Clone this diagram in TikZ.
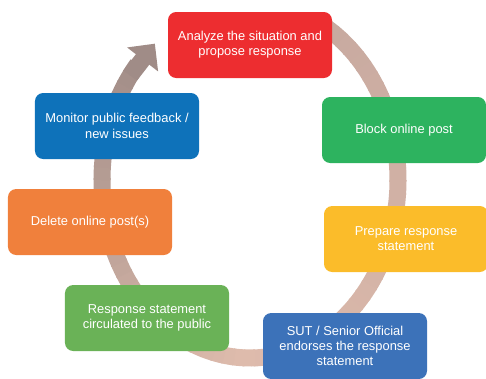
\documentclass[tikz,border=0pt]{standalone}
\usepackage{fontspec}
\setmainfont{Liberation Sans}
\usepackage{tikz}
\usetikzlibrary{arrows.meta}
\definecolor{stepred}{RGB}{237,45,48}
\definecolor{stepgreen}{RGB}{45,179,95}
\definecolor{stepyellow}{RGB}{251,188,42}
\definecolor{stepblue}{RGB}{60,114,185}
\definecolor{steplime}{RGB}{106,178,87}
\definecolor{steporange}{RGB}{240,128,60}
\definecolor{stepsky}{RGB}{14,114,186}
\definecolor{ringmid}{RGB}{200,170,160}
\definecolor{ringlight}{RGB}{222,187,172}
\definecolor{ringdark}{RGB}{160,140,135}
\tikzset{
  box/.style={rectangle, rounded corners=7pt, minimum width=4.92cm, minimum height=1.98cm, align=center, text=white, font=\fontsize{11}{13}\selectfont},
  ring/.style={line width=0.51cm},
}

\begin{document}
\begin{tikzpicture}[x=0.03cm, y=-0.03cm]
  \useasboundingbox (0,0) rectangle (486,378);

  % cycle ring
  \foreach \t [evaluate=\t as \p using {int((\t-300)/1.5)}, evaluate=\t as \e using {\t+4.6}] in {300,304,...,448} {
    \draw[ring, draw=ringlight!\p!ringmid] plot[domain=\t:\e, samples=4] ({250+148*cos(\x)}, {180+178*sin(\x)});
  }
  \foreach \t [evaluate=\t as \p using {int((\t-452)/1.3)}, evaluate=\t as \e using {\t+4.6}] in {452,456,...,576} {
    \draw[ring, draw=ringdark!\p!ringlight] plot[domain=\t:\e, samples=4] ({250+148*cos(\x)}, {180+178*sin(\x)});
  }
  \coordinate (tail) at ({250+148*cos(576)}, {180+178*sin(576)});
  \coordinate (tip) at ({250+148*cos(590)}, {180+178*sin(590)});
  \draw[ring, draw=ringdark, -{Triangle[length=0.6cm, width=1.14cm]}] (tail) -- (tip);

  % steps
  \node[box, fill=stepred] (analyze) at (250,45) {Analyze the situation and\\propose response};
  \node[box, fill=stepgreen] (block) at (404,130) {Block online post};
  \node[box, fill=stepyellow] (prepare) at (406,239) {Prepare response\\statement};
  \node[box, fill=stepblue] (endorse) at (345,346) {SUT / Senior Official\\endorses the response\\statement};
  \node[box, fill=steplime] (circulate) at (147,318) {Response statement\\circulated to the public};
  \node[box, fill=steporange] (delete) at (90,222) {Delete online post(s)};
  \node[box, fill=stepsky] (monitor) at (117,126) {Monitor public feedback /\\new issues};

\end{tikzpicture}
\end{document}
